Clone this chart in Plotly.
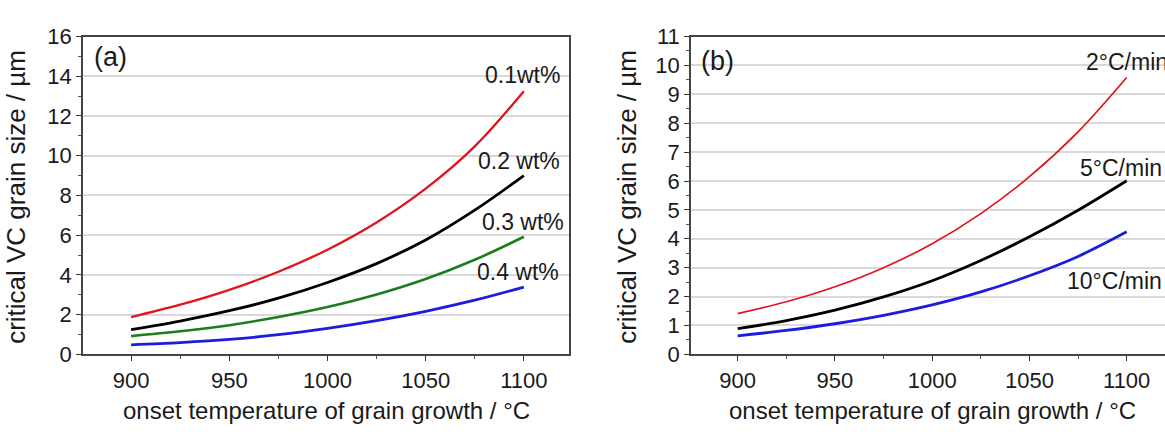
import plotly.graph_objects as go

# ---------------- data ----------------
temps = [900, 925, 950, 975, 1000, 1025, 1050, 1075, 1100]

# panel (a): V content
wt01 = [1.88, 2.50, 3.25, 4.16, 5.27, 6.64, 8.34, 10.47, 13.25]
wt02 = [1.25, 1.68, 2.20, 2.83, 3.62, 4.57, 5.76, 7.26, 9.00]
wt03 = [0.92, 1.16, 1.47, 1.88, 2.38, 3.01, 3.79, 4.76, 5.92]
wt04 = [0.48, 0.59, 0.75, 0.99, 1.31, 1.70, 2.17, 2.73, 3.39]

# panel (b): heating rate
r2 = [1.41, 1.82, 2.34, 3.00, 3.83, 4.87, 6.15, 7.70, 9.58]
r5 = [0.89, 1.17, 1.53, 1.99, 2.55, 3.25, 4.07, 4.99, 6.01]
r10 = [0.64, 0.83, 1.06, 1.35, 1.71, 2.16, 2.72, 3.39, 4.24]

labels_a = ["0.1wt%", "0.2 wt%", "0.3 wt%", "0.4 wt%"]
labels_b = ["2°C/min", "5°C/min", "10°C/min"]
xticks = [900, 950, 1000, 1050, 1100]

W, H = 1165, 440
FONT = "Liberation Sans, Arial, sans-serif"
RED, BLACK, GREEN, BLUE = "#e3121b", "#000000", "#1b7d1b", "#1c1ce0"
FS = 22

def px(x):
    return x / W

def py(y):
    return 1 - y / H

fig = go.Figure()

for ys, c, w in [(wt01, RED, 2.3), (wt02, BLACK, 2.8), (wt03, GREEN, 2.6), (wt04, BLUE, 2.8)]:
    fig.add_trace(go.Scatter(x=temps, y=ys, mode="lines", line=dict(color=c, width=w, shape="spline", smoothing=1.0),
                             xaxis="x", yaxis="y", showlegend=False, hoverinfo="skip"))
for ys, c, w in [(r2, RED, 1.7), (r5, BLACK, 2.8), (r10, BLUE, 2.8)]:
    fig.add_trace(go.Scatter(x=temps, y=ys, mode="lines", line=dict(color=c, width=w, shape="spline", smoothing=1.0),
                             xaxis="x2", yaxis="y2", showlegend=False, hoverinfo="skip"))

common_x = dict(
    tickvals=xticks, ticks="outside", ticklen=5, tickwidth=1.3, tickcolor="#333",
    showline=True, linecolor="#444", linewidth=1.6, mirror=True, showgrid=False, zeroline=False,
    tickfont=dict(family=FONT, size=FS, color="#1a1a1a"),
    minor=dict(dtick=25, tick0=875, ticks="outside", ticklen=3, tickcolor="#555", showgrid=False),
)
common_y = dict(
    ticks="outside", ticklen=5, tickwidth=1.3, tickcolor="#333",
    showline=True, linecolor="#444", linewidth=1.6, zeroline=False,
    showgrid=True, gridcolor="#d9d9d9", gridwidth=1.6,
    tickfont=dict(family=FONT, size=FS, color="#1a1a1a"),
)

y_top, y_bot = 26, 363

fig.update_layout(
    width=W, height=H, margin=dict(l=0, r=0, t=0, b=0),
    paper_bgcolor="white", plot_bgcolor="white",
    xaxis=dict(domain=[px(83), px(569)], range=[875.5, 1123], anchor="y", **common_x),
    yaxis=dict(domain=[py(y_bot), py(y_top)], range=[0, 16], dtick=2, anchor="x", mirror=True,
               minor=dict(dtick=1, ticks="outside", ticklen=3, tickcolor="#555", showgrid=False), **common_y),
    xaxis2=dict(domain=[px(691), 1.0], range=[876, 1119.7], anchor="y2", **common_x),
    yaxis2=dict(domain=[py(y_bot), py(y_top)], range=[0, 11], dtick=1, anchor="x2", mirror=False,
                minor=dict(dtick=0.5, ticks="outside", ticklen=3, tickcolor="#555", showgrid=False), **common_y),
)

ann = []
def add_text(text, x, y, size=FS, xanchor="center", angle=0):
    ann.append(dict(text=text, x=px(x), y=py(y), xref="paper", yref="paper", showarrow=False,
                    xanchor=xanchor, yanchor="middle", textangle=angle,
                    font=dict(family=FONT, size=size, color="#1a1a1a")))

# curve labels panel (a)
add_text(labels_a[0], 562, 67, size=23, xanchor="right")
add_text(labels_a[1], 562, 158, size=23, xanchor="right")
add_text(labels_a[2], 566, 223, size=23, xanchor="right")
add_text(labels_a[3], 561, 276, size=23, xanchor="right")
# curve labels panel (b) (the first one runs past the right edge, as in the original)
add_text(labels_b[0], 1084, 53, size=23, xanchor="left")
add_text(labels_b[1], 1164, 165, size=23, xanchor="right")
add_text(labels_b[2], 1164, 285, size=23, xanchor="right")
# panel letters
add_text("(a)", 92, 48, size=27, xanchor="left")
add_text("(b)", 699, 52, size=27, xanchor="left")
# axis titles
add_text("onset temperature of grain growth / °C", 326, 423, size=24)
add_text("onset temperature of grain growth / °C", 932, 423, size=24)
add_text("critical VC grain size / µm", 16, 196, size=26, angle=-90)
add_text("critical VC grain size / µm", 627, 196, size=26, angle=-90)

fig.update_layout(annotations=ann)
fig.write_html("out.html", config={"displayModeBar": False},
               post_script="document.body.style.margin='0px';")
